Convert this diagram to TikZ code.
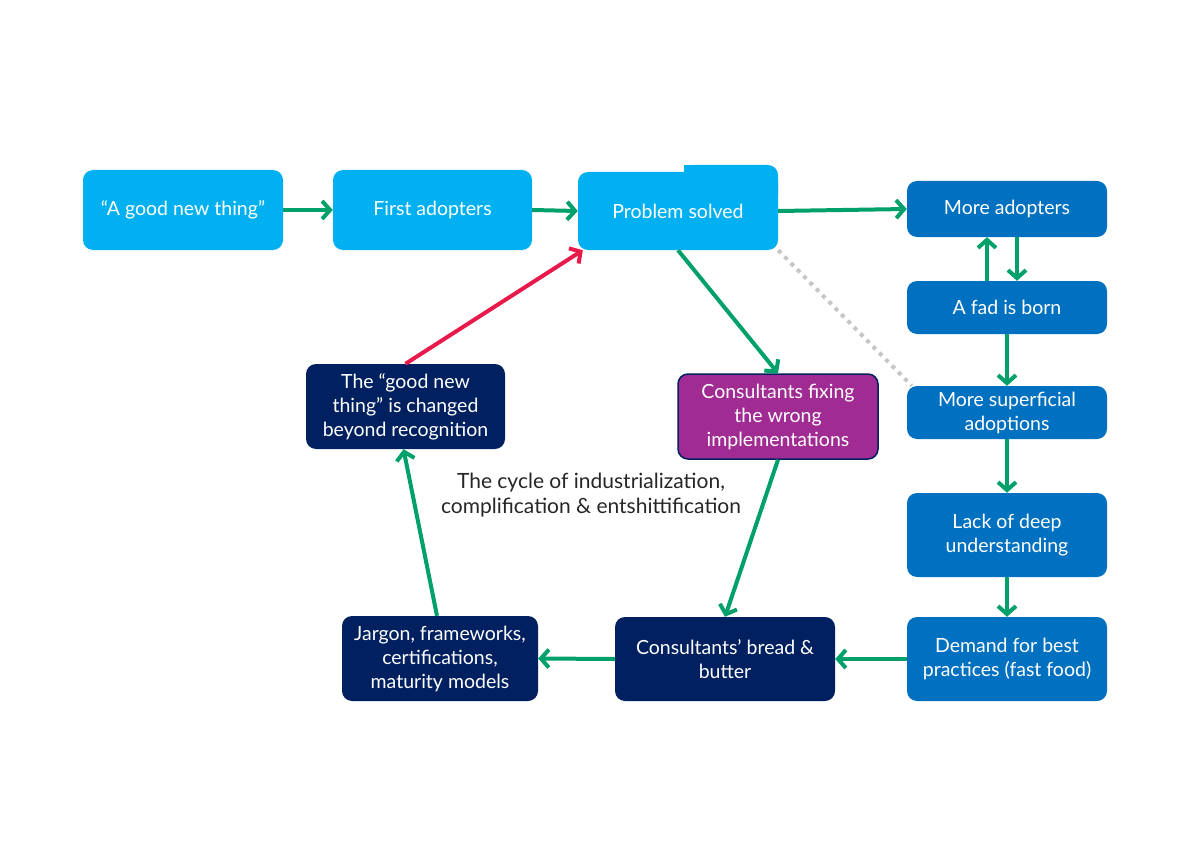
\documentclass[tikz,border=0pt]{standalone}
\usepackage{fontspec}
\setmainfont{Lato}
\usetikzlibrary{arrows.meta}

\definecolor{lightbox}{HTML}{00B0F0}
\definecolor{midbox}{HTML}{0070C0}
\definecolor{navybox}{HTML}{002060}
\definecolor{purplebox}{HTML}{A02B93}
\definecolor{flowgreen}{HTML}{00A06A}
\definecolor{backred}{HTML}{E8194B}

\begin{document}
\begin{tikzpicture}[x=1pt, y=-1pt,
        box/.style={rounded corners=10pt, text=white, align=center, inner sep=0pt,
                    font=\fontsize{19.5}{24}\selectfont},
        flow/.style={->, >={Straight Barb[length=8pt, width=18pt]}, line width=4pt, flowgreen}]
                % Frame
                \useasboundingbox (0,0) rectangle (1200,848);

                % Top row
                \node[box, fill=lightbox, minimum width=200pt, minimum height=80pt] (good) at (183,210) {``A good new thing''};
                \node[box, fill=lightbox, minimum width=199pt, minimum height=80pt] (first) at (432.5,210) {First adopters};
                \fill[lightbox, rounded corners=10pt] (684,165) rectangle (778,205);
                \fill[lightbox] (684,165) rectangle (720,205);
                \node[box, fill=lightbox, minimum width=200pt, minimum height=78pt] (solved) at (678,211) {Problem solved};

                % Right column
                \node[box, fill=midbox, minimum width=200pt, minimum height=56pt] (more) at (1007,209) {More adopters};
                \node[box, fill=midbox, minimum width=200pt, minimum height=53pt] (fad) at (1007,307.5) {A fad is born};
                \node[box, fill=midbox, minimum width=200pt, minimum height=53pt] (superf) at (1007,412.5) {More superficial\\adoptions};
                \node[box, fill=midbox, minimum width=200pt, minimum height=84pt] (lack) at (1007,535) {Lack of deep\\understanding};
                \node[box, fill=midbox, minimum width=200pt, minimum height=84pt] (demand) at (1007,659) {Demand for best\\practices (fast food)};

                % Consultants loop
                \node[box, fill=navybox, minimum width=220pt, minimum height=84pt] (bread) at (725,659) {Consultants' bread \&\\butter};
                \node[box, fill=navybox, minimum width=196pt, minimum height=85pt] (jargon) at (440,658.5) {Jargon, frameworks,\\certifications,\\maturity models};
                \node[box, fill=navybox, minimum width=199pt, minimum height=85pt] (changed) at (405.5,406.5) {The ``good new\\thing'' is changed\\beyond recognition};
                \node[box, fill=purplebox, draw=navybox, line width=1.5pt, minimum width=200pt, minimum height=85pt] (fixing) at (778,416.5) {Consultants fixing\\the wrong\\implementations};

                % Caption
                \node[align=center, text=black!85, font=\fontsize{21}{25}\selectfont] (cycle) at (591,495) {The cycle of industrialization,\\complification \& entshittification};

                % Connections
                \draw[gray!45, line width=4pt, dash pattern=on 4pt off 5pt] (solved.south east) -- ([xshift=5pt]superf.north west);
                \draw[flow] (good.east) -- (first.west);
                \draw[flow] (first.east) -- (solved.west);
                \draw[flow] (solved.east) -- (more.west);
                \draw[flow] ([xshift=-20pt]fad.north) -- ([xshift=-20pt]more.south);
                \draw[flow] ([xshift=10pt]more.south) -- ([xshift=10pt]fad.north);
                \draw[flow] (fad.south) -- (superf.north);
                \draw[flow] (superf.south) -- (lack.north);
                \draw[flow] (lack.south) -- (demand.north);
                \draw[flow] (demand.west) -- (bread.east);
                \draw[flow] (bread.west) -- (jargon.east);
                \draw[flow] ([xshift=-3pt]jargon.north) -- ([xshift=-2pt]changed.south);
                \draw[flow, backred] (changed.north) -- ([xshift=5pt]solved.south west);
                \draw[flow] (solved.south) -- (fixing.north);
                \draw[flow] (fixing.south) -- (bread.north);
            \end{tikzpicture}
\end{document}
